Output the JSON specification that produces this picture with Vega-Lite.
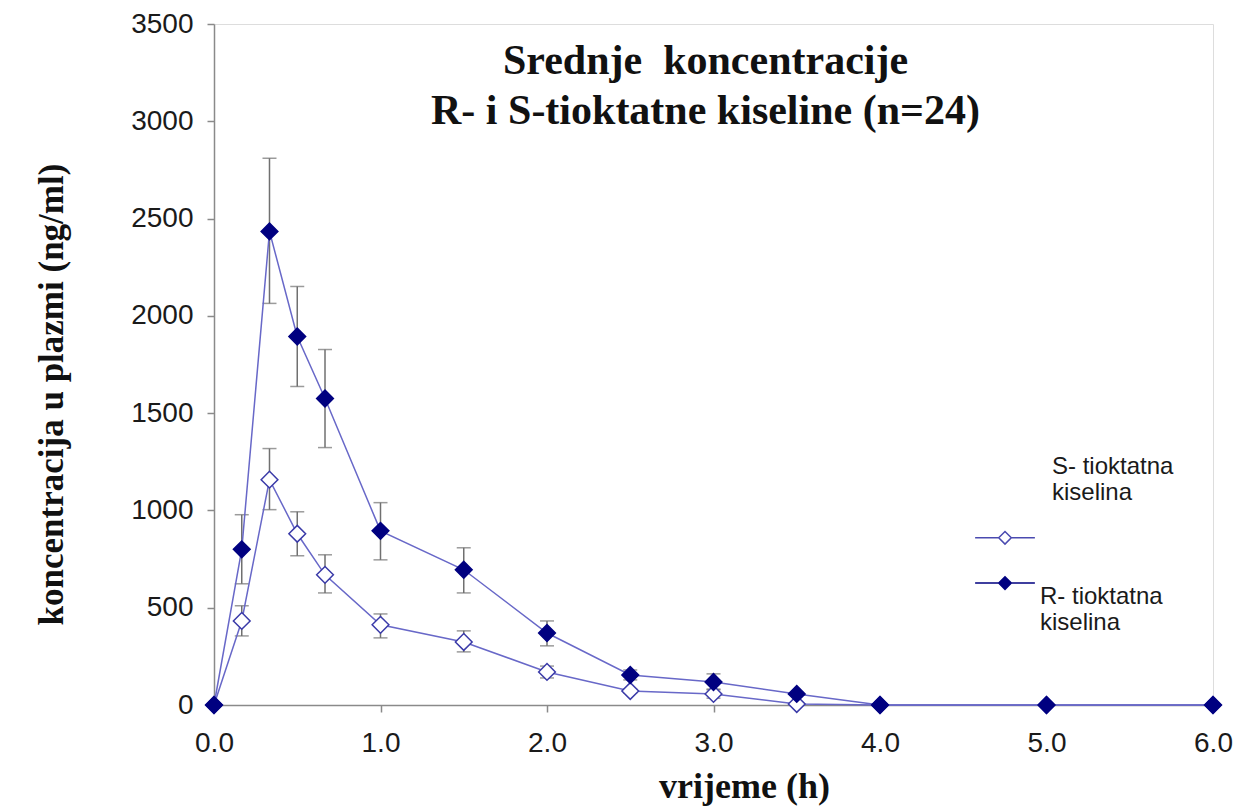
{
  "$schema": "https://vega.github.io/schema/vega-lite/v6.json",
  "autosize": "none",
  "width": 999,
  "height": 681,
  "padding": {"left": 214, "top": 24, "right": 47, "bottom": 102},
  "background": "white",
  "title": {
    "text": ["Srednje\u00a0 koncentracije", "R- i S-tioktatne kiseline (n=24)"],
    "font": "Liberation Serif",
    "fontSize": 42,
    "fontWeight": "bold",
    "color": "#111111",
    "anchor": "middle",
    "frame": "group",
    "baseline": "top",
    "lineHeight": 50,
    "offset": 0,
    "dy": 123,
    "dx": -8
  },
  "data": {
    "values": [
      {"t": 0, "series": "S- tioktatna kiselina", "mean": 0, "lo": 0, "hi": 0},
      {"t": 0.1667, "series": "S- tioktatna kiselina", "mean": 432, "lo": 355, "hi": 510},
      {"t": 0.3333, "series": "S- tioktatna kiselina", "mean": 1158, "lo": 1004, "hi": 1318},
      {"t": 0.5, "series": "S- tioktatna kiselina", "mean": 880, "lo": 767, "hi": 993},
      {"t": 0.6667, "series": "S- tioktatna kiselina", "mean": 669, "lo": 576, "hi": 772},
      {"t": 1.0, "series": "S- tioktatna kiselina", "mean": 412, "lo": 345, "hi": 468},
      {"t": 1.5, "series": "S- tioktatna kiselina", "mean": 324, "lo": 273, "hi": 381},
      {"t": 2.0, "series": "S- tioktatna kiselina", "mean": 170, "lo": 139, "hi": 200},
      {"t": 2.5, "series": "S- tioktatna kiselina", "mean": 72, "lo": 62, "hi": 82},
      {"t": 3.0, "series": "S- tioktatna kiselina", "mean": 57, "lo": 35, "hi": 82},
      {"t": 3.5, "series": "S- tioktatna kiselina", "mean": 5, "lo": 0, "hi": 10},
      {"t": 4.0, "series": "S- tioktatna kiselina", "mean": 0, "lo": 0, "hi": 0},
      {"t": 5.0, "series": "S- tioktatna kiselina", "mean": 0, "lo": 0, "hi": 0},
      {"t": 6.0, "series": "S- tioktatna kiselina", "mean": 0, "lo": 0, "hi": 0},
      {"t": 0, "series": "R- tioktatna kiselina", "mean": 0, "lo": 0, "hi": 0},
      {"t": 0.1667, "series": "R- tioktatna kiselina", "mean": 800, "lo": 623, "hi": 978},
      {"t": 0.3333, "series": "R- tioktatna kiselina", "mean": 2434, "lo": 2064, "hi": 2810},
      {"t": 0.5, "series": "R- tioktatna kiselina", "mean": 1894, "lo": 1637, "hi": 2151},
      {"t": 0.6667, "series": "R- tioktatna kiselina", "mean": 1575, "lo": 1323, "hi": 1827},
      {"t": 1.0, "series": "R- tioktatna kiselina", "mean": 895, "lo": 746, "hi": 1040},
      {"t": 1.5, "series": "R- tioktatna kiselina", "mean": 695, "lo": 576, "hi": 808},
      {"t": 2.0, "series": "R- tioktatna kiselina", "mean": 370, "lo": 304, "hi": 432},
      {"t": 2.5, "series": "R- tioktatna kiselina", "mean": 154, "lo": 129, "hi": 180},
      {"t": 3.0, "series": "R- tioktatna kiselina", "mean": 118, "lo": 78, "hi": 160},
      {"t": 3.5, "series": "R- tioktatna kiselina", "mean": 57, "lo": 50, "hi": 64},
      {"t": 4.0, "series": "R- tioktatna kiselina", "mean": 0, "lo": 0, "hi": 0},
      {"t": 5.0, "series": "R- tioktatna kiselina", "mean": 0, "lo": 0, "hi": 0},
      {"t": 6.0, "series": "R- tioktatna kiselina", "mean": 0, "lo": 0, "hi": 0}
    ]
  },
  "encoding": {
    "x": {
      "field": "t",
      "type": "quantitative",
      "scale": {"domain": [0, 6], "nice": false, "zero": true},
      "axis": {
        "title": "vrijeme (h)",
        "values": [0, 1, 2, 3, 4, 5, 6],
        "format": ".1f",
        "grid": false,
        "labelFlush": false,
        "labelOverlap": false,
        "domainColor": "#8a8a8a",
        "domainWidth": 1.5,
        "tickColor": "#8a8a8a",
        "tickWidth": 1.5,
        "tickSize": 7,
        "labelFont": "Liberation Sans",
        "labelFontSize": 28,
        "labelColor": "#1a1a1a",
        "labelPadding": 17,
        "titleFont": "Liberation Serif",
        "titleFontSize": 36,
        "titleFontWeight": "bold",
        "titleColor": "#111111",
        "titlePadding": 12,
        "titleX": 530
      }
    },
    "y": {
      "field": "mean",
      "type": "quantitative",
      "scale": {"domain": [0, 3500], "nice": false},
      "axis": {
        "title": "koncentracija u plazmi (ng/ml)",
        "values": [0, 500, 1000, 1500, 2000, 2500, 3000, 3500],
        "format": "d",
        "grid": false,
        "labelFlush": false,
        "labelOverlap": false,
        "domainColor": "#8a8a8a",
        "domainWidth": 1.5,
        "tickColor": "#8a8a8a",
        "tickWidth": 1.5,
        "tickSize": 7,
        "labelFont": "Liberation Sans",
        "labelFontSize": 28,
        "labelColor": "#1a1a1a",
        "labelPadding": 14,
        "titleFont": "Liberation Serif",
        "titleFontSize": 35,
        "titleFontWeight": "bold",
        "titleColor": "#111111",
        "titlePadding": 61,
        "titleY": 370
      }
    }
  },
  "layer": [
    {
      "mark": {"type": "rule", "color": "#707070", "strokeWidth": 1.5},
      "encoding": {"y": {"field": "lo", "type": "quantitative"}, "y2": {"field": "hi"}}
    },
    {
      "mark": {"type": "tick", "orient": "horizontal", "color": "#707070", "thickness": 1.5, "size": 14},
      "encoding": {"y": {"field": "lo", "type": "quantitative"}}
    },
    {
      "mark": {"type": "tick", "orient": "horizontal", "color": "#707070", "thickness": 1.5, "size": 14},
      "encoding": {"y": {"field": "hi", "type": "quantitative"}}
    },
    {
      "mark": {"type": "line", "color": "#6868c8", "strokeWidth": 1.5},
      "encoding": {"detail": {"field": "series"}}
    },
    {
      "mark": {"type": "point", "shape": "diamond", "size": 280, "opacity": 1, "strokeWidth": 1.5},
      "encoding": {
        "fill": {
          "field": "series",
          "type": "nominal",
          "scale": {"domain": ["S- tioktatna kiselina", "R- tioktatna kiselina"], "range": ["#ffffff", "#000080"]},
          "legend": {
            "orient": "none",
            "legendX": 776,
            "legendY": 428,
            "title": null,
            "values": ["S- tioktatna kiselina"],
            "symbolType": "M-2.14,5.07H-0.45M-0.45,5.07L0,4.62L0.45,5.07L0,5.52ZM0.45,5.07H2.14",
            "symbolSize": 780,
            "symbolStrokeWidth": 1.5,
            "symbolStrokeColor": "#4a4ab0",
            "labelFont": "Liberation Sans",
            "labelFontSize": 24,
            "labelColor": "#1a1a1a",
            "labelLimit": 400,
            "labelExpr": "['S- tioktatna', 'kiselina']",
            "labelOffset": 32
          }
        },
        "stroke": {
          "field": "series",
          "type": "nominal",
          "scale": {"domain": ["R- tioktatna kiselina", "S- tioktatna kiselina"], "range": ["#000080", "#3a3aa8"]},
          "legend": {
            "orient": "none",
            "legendX": 776,
            "legendY": 558,
            "title": null,
            "values": ["R- tioktatna kiselina"],
            "symbolType": "M-2.14,-1H-0.45M-0.45,-1L0,-1.45L0.45,-1L0,-0.55ZM0.45,-1H2.14",
            "symbolSize": 780,
            "symbolStrokeWidth": 1.5,
            "symbolFillColor": "#000080",
            "labelFont": "Liberation Sans",
            "labelFontSize": 24,
            "labelColor": "#1a1a1a",
            "labelLimit": 400,
            "labelExpr": "['R- tioktatna', 'kiselina']",
            "labelOffset": 20
          }
        }
      }
    }
  ]
}
